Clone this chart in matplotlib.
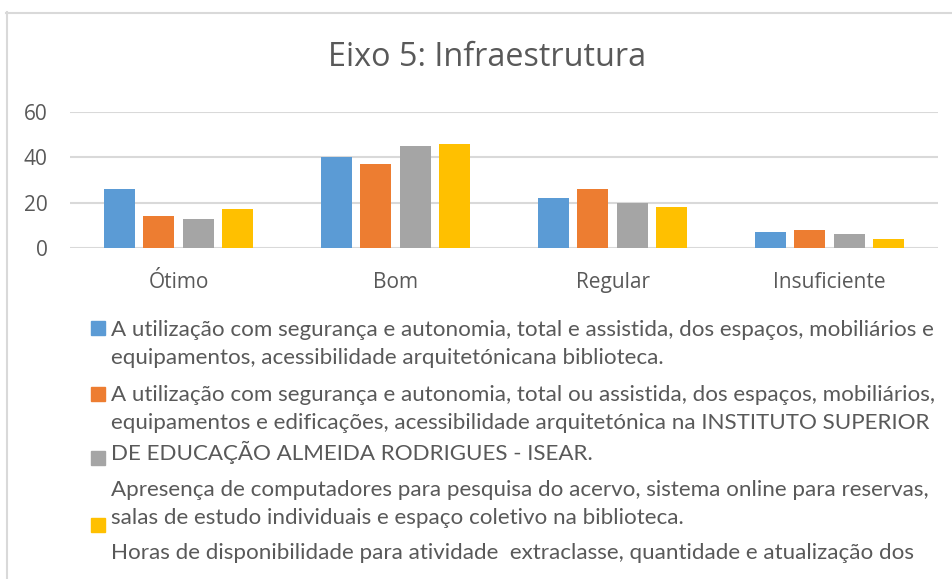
import matplotlib
matplotlib.use("Agg")
import matplotlib.pyplot as plt
import numpy as np
from matplotlib.patches import Rectangle
from matplotlib.lines import Line2D

categories = ["Ótimo", "Bom", "Regular", "Insuficiente"]
serie1 = [26, 40, 22, 7]
serie2 = [14, 37, 26, 8]
serie3 = [13, 45, 20, 6]
serie4 = [17, 46, 18, 4]
colors = ["#5B9BD5", "#ED7D31", "#A5A5A5", "#FFC000"]
yticks = [0, 20, 40, 60]

legend_lines = [
    ["A utilização com segurança e autonomia, total e assistida, dos espaços, mobiliários e",
     "equipamentos, acessibilidade arquitetónicana biblioteca."],
    ["A utilização com segurança e autonomia, total ou assistida, dos espaços, mobiliários,",
     "equipamentos e edificações, acessibilidade arquitetónica na INSTITUTO SUPERIOR",
     "DE EDUCAÇÃO ALMEIDA RODRIGUES - ISEAR."],
    ["Apresença de computadores para pesquisa do acervo, sistema online para reservas,",
     "salas de estudo individuais e espaço coletivo na biblioteca."],
    ["Horas de disponibilidade para atividade  extraclasse, quantidade e atualização dos"],
]

W, H = 952, 579
txt = "#595959"
grid = "#D9D9D9"

fig = plt.figure(figsize=(W / 100, H / 100), dpi=100)
ax = fig.add_axes([70 / W, 1 - 248 / H, 868 / W, 136 / H])

x = np.arange(len(categories))
slot = 0.181
width = 0.143
for i, vals in enumerate([serie1, serie2, serie3, serie4]):
    ax.bar(x + (i - 1.5) * slot, vals, width, color=colors[i], zorder=3)

ax.set_xlim(-0.5, 3.5)
ax.set_ylim(0, 60)
ax.set_yticks(yticks)
ax.set_xticks(x)
ax.set_xticklabels(categories)
ax.yaxis.grid(True, color=grid, linewidth=1.5, zorder=0)
for s in ax.spines.values():
    s.set_visible(False)
ax.tick_params(axis="both", length=0, colors=txt, labelsize=15)
ax.tick_params(axis="y", pad=16)
ax.tick_params(axis="x", pad=17.5)
for lab in ax.get_xticklabels() + ax.get_yticklabels():
    lab.set_fontfamily("Open Sans")

fig.text(487 / W, 1 - 57 / H, "Eixo 5: Infraestrutura", ha="center", va="center",
         fontsize=23.3, color=txt, family="Open Sans")

# legend, laid out like the Excel one
line_y = [[330, 358], [395, 423, 452], [490, 518], [553]]
marker_y = [328, 394, 458, 525]
for k, lines in enumerate(legend_lines):
    for j, line in enumerate(lines):
        fig.text(111 / W, 1 - line_y[k][j] / H, line, ha="left", va="center",
                 fontsize=16.1, color=txt, family="Lato")
    fig.add_artist(Rectangle((91 / W, 1 - (marker_y[k] + 7) / H), 14 / W, 14 / H,
                             transform=fig.transFigure, color=colors[k]))

# chart border
fig.add_artist(Line2D([6.5 / W, 6.5 / W], [0, 1 - 12 / H], transform=fig.transFigure,
                      color=grid, linewidth=1.5))
fig.add_artist(Line2D([6 / W, 1], [1 - 12.5 / H, 1 - 12.5 / H], transform=fig.transFigure,
                      color=grid, linewidth=1.5))

fig.savefig("out.png", dpi=100)
